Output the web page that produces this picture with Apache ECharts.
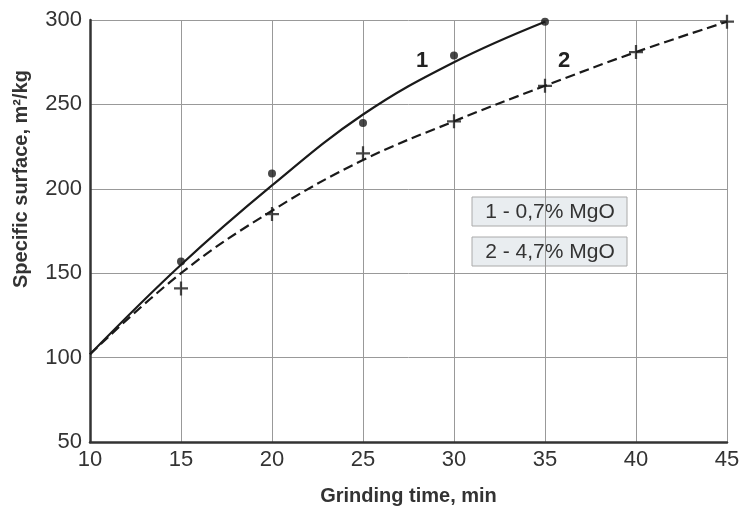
<!DOCTYPE html>
<html>
<head>
<meta charset="utf-8">
<script src="https://cdn.jsdelivr.net/npm/echarts@6/dist/echarts.min.js"></script>
<style>
  html, body { margin: 0; padding: 0; background: #fff; }
  #chart { width: 741px; height: 506px; }
</style>
</head>
<body>
<div id="chart"></div>
<script>
// measured points
var time1 = [15, 20, 25, 30, 35];
var surface1 = [157, 209, 239, 279, 299];
var time2 = [15, 20, 25, 30, 35, 40, 45];
var surface2 = [141, 185, 221, 240, 261, 281, 299];

// fitted curves
var fitTime1 = [10, 15, 20, 25, 30, 35];
var fitSurface1 = [102, 155, 202, 244, 275, 299];
var fitTime2 = [10, 15, 20, 25, 30, 35, 40, 45];
var fitSurface2 = [102, 150, 187, 217, 240, 261, 281, 299];

var legendLabels = ['1 - 0,7% MgO', '2 - 4,7% MgO'];

function pairs(xs, ys) {
  return xs.map(function (x, i) { return [x, ys[i]]; });
}

var crossPath = 'path://M0,4.2H10V5.8H0Z M4.2,0H5.8V10H4.2Z';

(function() {
  var myChart = echarts.init(document.getElementById('chart'));

  var option = {
    animation: false,
    grid: { left: 90, right: 14, top: 20, bottom: 64, outerBoundsMode: 'none' },
    xAxis: {
      type: 'value',
      min: 10, max: 45, interval: 5,
      name: 'Grinding time, min',
      nameLocation: 'middle',
      nameGap: 44,
      nameTextStyle: { fontFamily: 'Liberation Sans', fontWeight: 'bold', fontSize: 20, color: '#333' },
      axisLine: { lineStyle: { color: '#333', width: 2.5 } },
      axisTick: { show: false },
      axisLabel: { fontFamily: 'Liberation Sans', fontSize: 22, color: '#333', margin: 7 },
      splitLine: { lineStyle: { color: '#999', width: 1 } }
    },
    yAxis: {
      type: 'value',
      min: 50, max: 300, interval: 50,
      axisLine: { show: true, lineStyle: { color: '#333', width: 2.5 } },
      axisTick: { show: false },
      axisLabel: { fontFamily: 'Liberation Sans', fontSize: 22, color: '#333', margin: 8 },
      splitLine: { lineStyle: { color: '#999', width: 1 } }
    },
    graphic: [
      {
        type: 'text',
        rotation: Math.PI / 2,
        x: 11, y: 288,
        style: {
          text: 'Specific surface, m²/kg',
          font: 'bold 20px "Liberation Sans"',
          fill: '#333'
        }
      },
      { type: 'text', x: 416, y: 50, style: { text: '1', font: 'bold 22px "Liberation Sans"', fill: '#222' } },
      { type: 'text', x: 558, y: 50, style: { text: '2', font: 'bold 22px "Liberation Sans"', fill: '#222' } },
      {
        type: 'group',
        children: [
          { type: 'rect', shape: { x: 472, y: 197, width: 155, height: 29 }, style: { fill: '#e9edf0', stroke: '#aaa', lineWidth: 1 } },
          { type: 'text', x: 550, y: 212, style: { text: legendLabels[0], font: '21px "Liberation Sans"', fill: '#333', align: 'center', verticalAlign: 'middle' } },
          { type: 'rect', shape: { x: 472, y: 237, width: 155, height: 29 }, style: { fill: '#e9edf0', stroke: '#aaa', lineWidth: 1 } },
          { type: 'text', x: 550, y: 252, style: { text: legendLabels[1], font: '21px "Liberation Sans"', fill: '#333', align: 'center', verticalAlign: 'middle' } }
        ]
      }
    ],
    series: [
      {
        name: 'fit1', type: 'line', smooth: 0.4,
        data: pairs(fitTime1, fitSurface1),
        showSymbol: false,
        lineStyle: { color: '#1a1a1a', width: 2.2 }
      },
      {
        name: 'fit2', type: 'line', smooth: 0.4,
        data: pairs(fitTime2, fitSurface2),
        showSymbol: false,
        lineStyle: { color: '#1a1a1a', width: 2.2, type: [10, 5] }
      },
      {
        name: legendLabels[0], type: 'scatter',
        data: pairs(time1, surface1),
        symbol: 'circle', symbolSize: 8,
        itemStyle: { color: '#1a1a1a' }
      },
      {
        name: legendLabels[1], type: 'scatter',
        data: pairs(time2, surface2),
        symbol: crossPath, symbolSize: 14,
        itemStyle: { color: '#1a1a1a' }
      }
    ]
  };

  myChart.setOption(option);
})();
</script>
</body>
</html>
